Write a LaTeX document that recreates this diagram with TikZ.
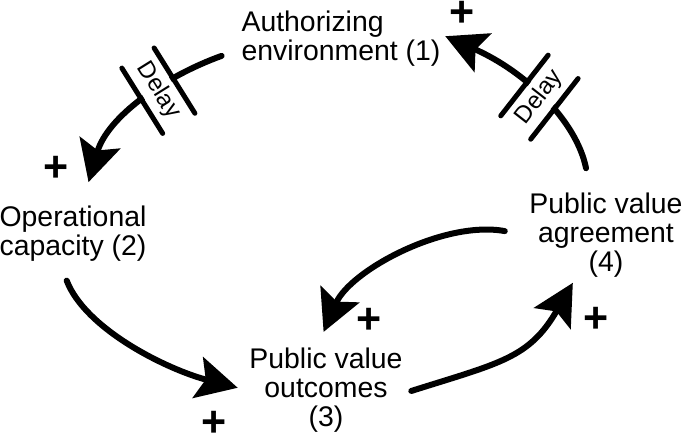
\documentclass[tikz,border=0pt]{standalone}
\usepackage{fontspec}
\setmainfont{Liberation Sans}
\usetikzlibrary{arrows.meta}
\tikzset{
  every picture/.style={line width=6pt},
  lbl/.style={font=\fontsize{28.4}{29}\selectfont, inner sep=0pt},
  arrow/.style={-{Stealth[length=41pt, width=42pt, inset=8pt]}, line cap=round},
  delay/.style={fill=white, inner sep=0pt, minimum width=71pt, minimum height=32pt, font=\fontsize{24}{24}\selectfont},
  bar/.style={line width=5pt, line cap=round},
  sign/.style={font=\fontsize{43}{43}\selectfont\bfseries, inner sep=0pt},
}

\begin{document}
\begin{tikzpicture}[x=1pt, y=1pt]
  \useasboundingbox (0,0) rectangle (685,437);
  % the four stocks of the loop
  \node[lbl, align=left] (n1) at (341,398) {Authorizing\\environment (1)};
  \node[lbl, align=left] (n2) at (73,203) {Operational\\capacity (2)};
  \node[lbl, align=center] (n3) at (326,47) {Public value\\outcomes\\(3)};
  \node[lbl, align=center] (n4) at (606,202) {Public value\\agreement\\(4)};
  % links
  \draw[arrow, shorten <=18pt, shorten >=22pt] (n1.186) .. controls +(-75,-27) and +(25,86) .. (n2.73)
    node[delay, pos=0.4, rotate=-58] (dA) {Delay};
  \draw[arrow, shorten <=22pt, shorten >=2pt] (n4.109) .. controls +(-14,69) and +(82,-36) .. (n1.2)
    node[delay, pos=0.52, rotate=52] (dB) {Delay};
  \draw[arrow, shorten <=17pt, shorten >=9pt] (n2.248) .. controls +(25,-65) and +(-78,20) .. (n3.west);
  \draw[arrow, shorten <=6pt, shorten >=3pt] (n3.358) .. controls +(95,30) and +(-45,-78) .. (n4.235);
  \draw[arrow, shorten <=22pt, shorten >=14pt] (n4.west) .. controls +(-83,15) and +(32,74) .. (n3.100);
  % delay bars
  \draw[bar] (dA.north west) -- (dA.north east) (dA.south west) -- (dA.south east);
  \draw[bar] (dB.north west) -- (dB.north east) (dB.south west) -- (dB.south east);
  % polarities
  \node[sign] (s1) at (462,423) {+};
  \node[sign] (s2) at (56,268) {+};
  \node[sign] (s3) at (214,13) {+};
  \node[sign] (s4) at (596,117) {+};
  \node[sign] (s5) at (369.5,116) {+};
\end{tikzpicture}
\end{document}
